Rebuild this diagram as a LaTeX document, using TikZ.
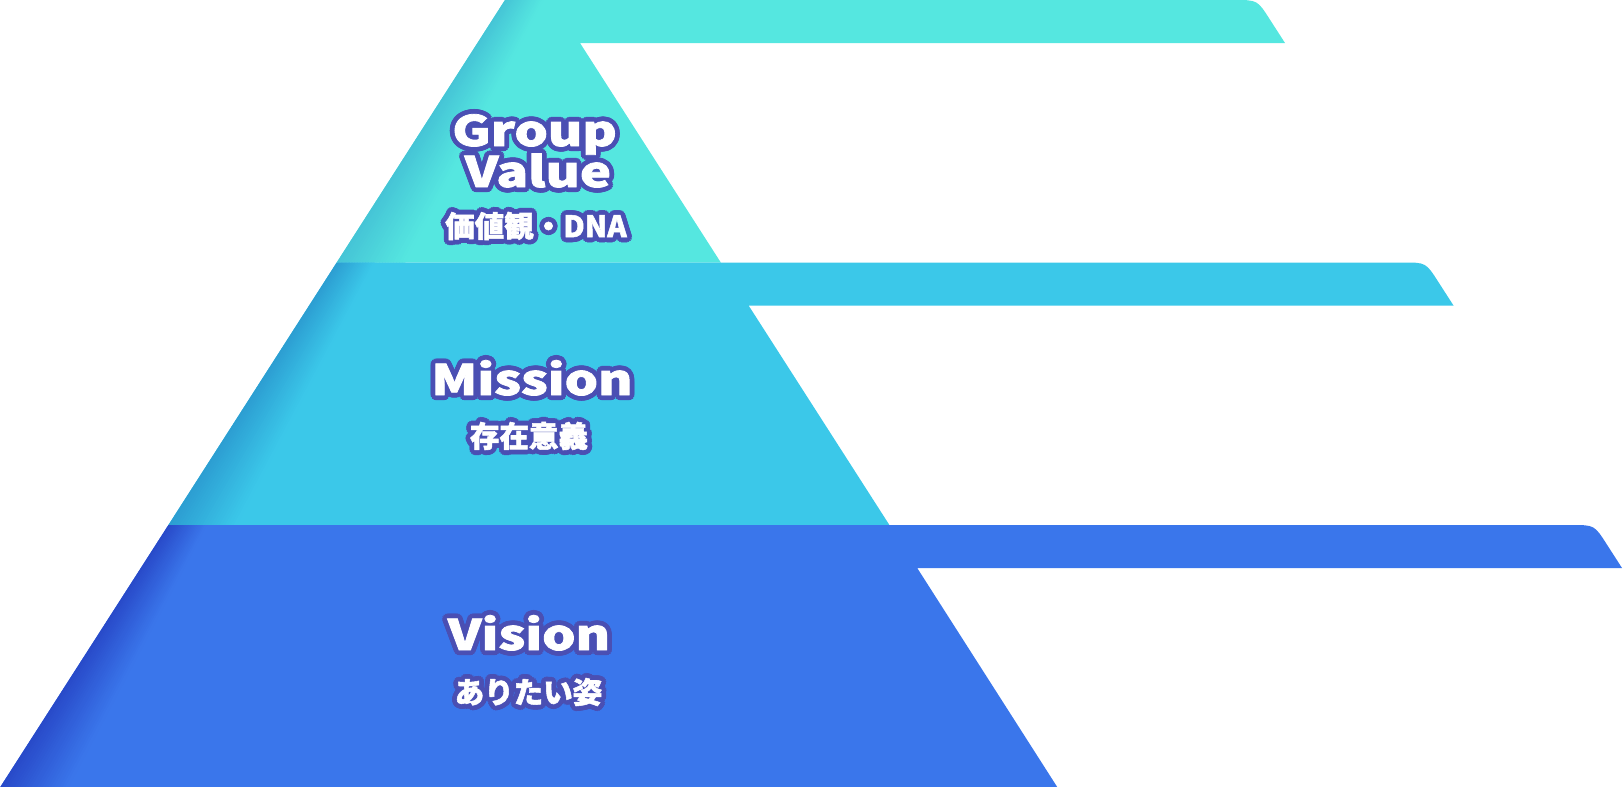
\documentclass[tikz,border=0pt]{standalone}
\usepackage{fontspec}
\newfontfamily\jpf{Noto Sans CJK JP}
\newfontfamily\jpw{Noto Sans CJK JP}[FakeBold=1.8]
\usetikzlibrary{calc}
\definecolor{c1}{HTML}{55E7E0}
\definecolor{c1d}{HTML}{45C4D6}
\definecolor{c2}{HTML}{3BC8E9}
\definecolor{c2d}{HTML}{2C9DD2}
\definecolor{c3}{HTML}{3A76EB}
\definecolor{c3d}{HTML}{2849C8}
\definecolor{ol}{HTML}{4A4FB3}
\tikzset{
  lab/.style={inner sep=0pt, outer sep=0pt, anchor=base, text=white},
  latin/.style={lab, font=\jpw\bfseries\fontsize{42}{42}\selectfont, xscale=1.25, transform shape},
  kanji/.style={lab, font=\jpw\bfseries\fontsize{29.5}{29.5}\selectfont},
}
% name, x, y, style, text
\newcommand\outlined[5]{%
  \foreach \k in {1,...,16}{\node[#4,text=ol] (#1h\k) at ($(#2,#3)+(\k*22.5:4.8)$) {#5};}
  \node[#4] (#1) at (#2,#3) {#5};
}
% yt, yb, xl(yt), xl(yb), base, dark
\newcommand\bandgrad[6]{%
  \foreach \i in {0,...,23}{%
    \pgfmathsetmacro\fa{\i/24}\pgfmathsetmacro\fb{(\i+1)/24}%
    \pgfmathsetmacro\pc{100*(\i+0.5)/24}%
    \fill[#5!\pc!#6] ({#3+\fa*38},#1) -- ({#3+\fb*38+0.6},#1) -- ({#4+\fb*68+0.6},#2) -- ({#4+\fa*68},#2) -- cycle;
  }}
\begin{document}
\begin{tikzpicture}[x=1pt,y=-1pt]
\useasboundingbox (0,0) rectangle (1623,787);
% top band
\fill[c1] (505,0) -- (1234.4,0) .. controls (1257.4,0) .. (1269.8,19.4) -- (1285,43)
  -- (580,43) -- (720.8,262.5) -- (336.7,262.5) -- cycle;
\bandgrad{0}{262.5}{505}{336.7}{c1}{c1d}
% middle band
\fill[c2] (336.7,262.5) -- (1402.9,262.5) .. controls (1425.9,262.5) .. (1438.3,281.9) -- (1453.5,305.5)
  -- (748.6,305.5) -- (889.4,525) -- (168.4,525) -- cycle;
\bandgrad{262.5}{525}{336.7}{168.4}{c2}{c2d}
% bottom band
\fill[c3] (168.4,525) -- (1571.4,525) .. controls (1594.4,525) .. (1606.8,544.4) -- (1622,568)
  -- (917.2,568) -- (1058.5,789) -- (-1,789) -- cycle;
\bandgrad{525}{789}{168.4}{-1}{c3}{c3d}
% labels
\outlined{group}{534.5}{146}{latin}{Group}
\outlined{value}{538}{187}{latin}{Value}
\outlined{dna}{536}{237.2}{kanji}{価値観・DNA}
\outlined{mission}{532}{395}{latin}{Mission}
\outlined{sonzai}{529}{447.2}{kanji}{存在意義}
\outlined{vision}{529}{650}{latin}{Vision}
\outlined{aritai}{528.5}{703.2}{kanji}{ありたい姿}
\end{tikzpicture}
\end{document}
